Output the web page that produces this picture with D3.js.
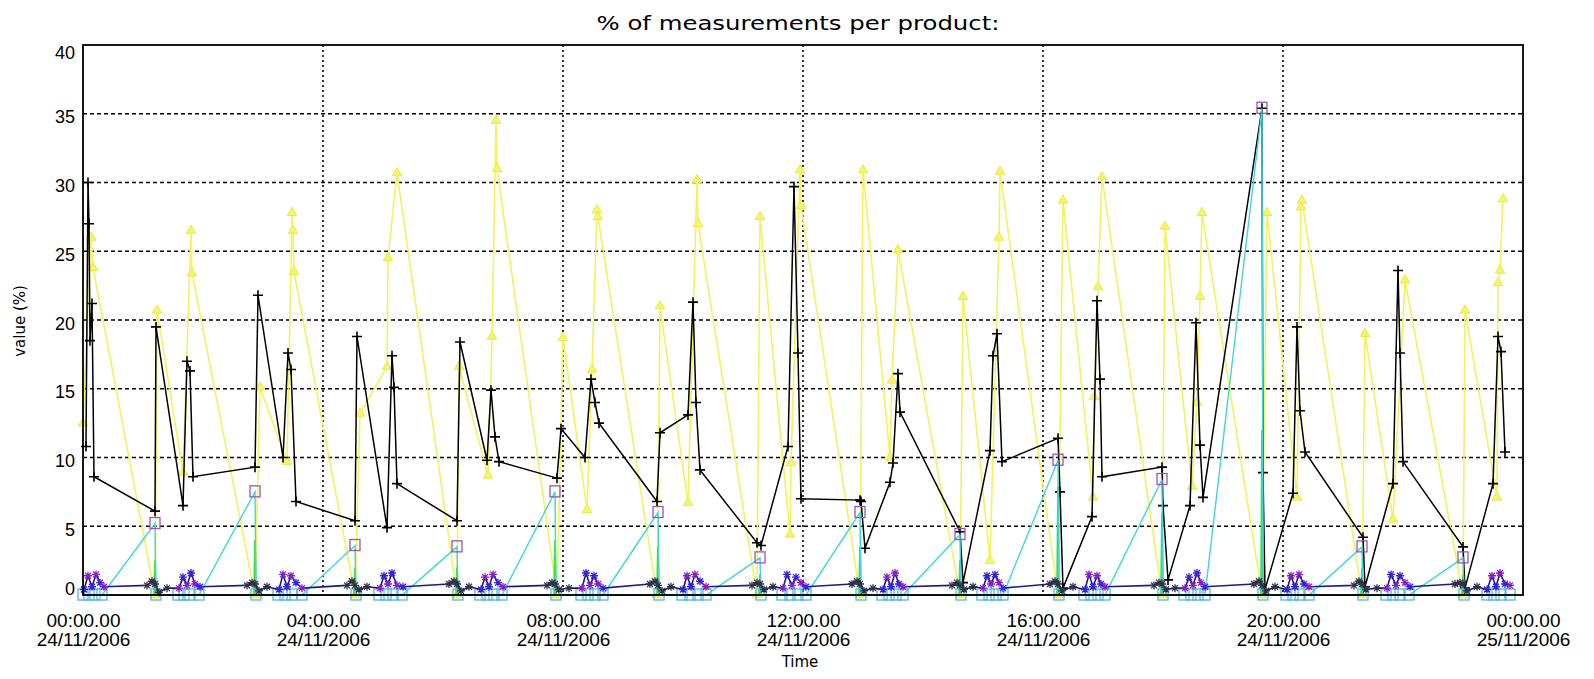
<!DOCTYPE html>
<html>
<head>
<meta charset="utf-8">
<script src="https://cdnjs.cloudflare.com/ajax/libs/d3/7.8.5/d3.min.js"></script>
<style>
  body { margin: 0; background: #fff; }
  svg { display: block; font-family: "DejaVu Sans", sans-serif; }
</style>
</head>
<body>
<svg id="chart"></svg>
<script>
// minutes after 00:00 on 24/11/2006
const yTicks = [0, 5, 10, 15, 20, 25, 30, 35, 40];
const xTickTimes = ["00:00.00", "04:00.00", "08:00.00", "12:00.00", "16:00.00", "20:00.00", "00:00.00"];
const xTickDates = ["24/11/2006", "24/11/2006", "24/11/2006", "24/11/2006", "24/11/2006", "24/11/2006", "25/11/2006"];

// yellow product (triangles)
const yellowTimes = [0, 8, 10, 72, 74, 100, 108, 109, 172, 177, 204, 209, 210, 211,
  272, 277, 304, 305, 314, 374, 376, 405, 409, 413, 414, 474, 480, 504, 509, 514, 515,
  574, 577, 605, 614, 615, 674, 677, 707, 708, 717, 718, 777, 780, 807, 809, 815,
  877, 880, 907, 916, 917, 975, 980, 1010, 1011, 1015, 1019, 1079, 1082, 1109, 1114, 1117, 1119,
  1179, 1184, 1214, 1218, 1219, 1279, 1282, 1310, 1322, 1380, 1382, 1414, 1415, 1417, 1420];
const yellowValues = [12.5, 26.0, 23.8, 0, 20.7, 8.9, 26.5, 23.4, 0, 15.1, 9.7, 27.8, 26.5, 23.5,
  0, 13.2, 16.6, 24.5, 30.7, 0, 16.6, 8.7, 18.8, 34.5, 31.0, 0, 18.7, 6.2, 16.4, 28.0, 27.5,
  0, 21.0, 6.7, 30.2, 27.0, 0, 27.5, 4.4, 9.6, 30.9, 28.3, 0, 30.9, 10.0, 15.6, 25.1,
  0, 21.7, 2.5, 26.0, 30.8, 0, 28.7, 7.1, 14.4, 22.4, 30.4, 0, 26.8, 7.9, 14.0, 21.7, 27.8,
  0, 27.8, 7.1, 28.2, 28.7, 0, 19.0, 5.5, 22.9, 0, 20.7, 7.1, 22.7, 23.6, 28.8];

// black product (plus signs)
const blackTimes = [3, 5, 6, 7, 9, 11, 72, 73, 100, 104, 107, 110, 172, 175, 200, 205, 208, 213,
  272, 274, 304, 309, 311, 314, 374, 377, 404, 408, 412, 416, 474, 478, 502, 508, 512, 516,
  574, 577, 605, 610, 613, 617, 674, 678, 705, 711, 715, 718, 777, 778, 782, 807, 810, 815, 817,
  877, 880, 907, 910, 914, 919, 975, 977, 980, 1009, 1014, 1017, 1019, 1079, 1080, 1085,
  1107, 1113, 1117, 1120, 1179, 1180, 1182, 1210, 1214, 1217, 1222, 1280, 1282,
  1310, 1315, 1317, 1320, 1380, 1382, 1410, 1415, 1418, 1422];
const blackValues = [10.8, 30.0, 27.0, 18.5, 21.2, 8.6, 6.1, 19.5, 6.5, 17.0, 16.3, 8.6, 9.3, 21.8, 10.0, 17.6, 16.4, 6.8,
  5.4, 18.8, 4.9, 17.4, 15.1, 8.1, 5.4, 18.4, 9.8, 14.9, 11.5, 9.7, 8.5, 12.1, 10.0, 15.7, 14.0, 12.5,
  6.8, 11.8, 13.1, 21.3, 14.0, 9.1, 3.8, 3.6, 10.8, 29.7, 17.6, 7.0, 6.9, 6.8, 3.4, 8.2, 9.6, 16.1, 13.3,
  4.6, 0.9, 10.5, 17.4, 19.0, 9.7, 11.4, 7.5, 0.5, 5.7, 21.4, 15.7, 8.6, 9.3, 6.5, 1.1,
  6.5, 19.8, 10.9, 7.1, 35.4, 8.9, 0.4, 7.4, 19.5, 13.4, 10.4, 4.2, 0.6,
  8.1, 23.6, 17.6, 9.7, 3.5, 0.5, 8.1, 18.8, 17.7, 10.4];

// cyan product (squares)
const cyanTimes = [0, 6, 12, 19, 72, 73, 95, 101, 107, 116, 172, 173, 195, 202, 209, 219, 272, 273,
  296, 303, 310, 319, 374, 375, 397, 404, 411, 419, 472, 473, 498, 505, 512, 520, 575, 576,
  599, 607, 615, 623, 677, 678, 699, 707, 715, 723, 777, 778, 799, 806, 813, 820, 877, 878,
  899, 906, 913, 920, 975, 976, 1001, 1008, 1015, 1022, 1079, 1080, 1101, 1108, 1115, 1122, 1179, 1180,
  1203, 1210, 1217, 1226, 1279, 1280, 1303, 1310, 1317, 1326, 1380, 1381, 1404, 1411, 1418, 1427];
const cyanValues = [0, 0, 0, 0, 5.2, 0, 0, 0, 0, 0, 7.5, 0, 0, 0, 0, 0, 3.6, 0,
  0, 0, 0, 0, 3.5, 0, 0, 0, 0, 0, 7.5, 0, 0, 0, 0, 0, 6.0, 0,
  0, 0, 0, 0, 2.7, 0, 0, 0, 0, 0, 6.0, 0, 0, 0, 0, 0, 4.4, 0,
  0, 0, 0, 0, 9.8, 0, 0, 0, 0, 0, 8.4, 0, 0, 0, 0, 0, 35.4, 0,
  0, 0, 0, 0, 3.5, 0, 0, 0, 0, 0, 2.7, 0, 0, 0, 0, 0];

// green product
const greenTimes = [0, 71, 72, 73, 171, 172, 173, 271, 272, 273, 373, 374, 375, 471, 472, 473,
  574, 575, 576, 676, 677, 678, 776, 777, 778, 876, 877, 878, 974, 975, 976, 1078, 1079, 1080,
  1178, 1179, 1180, 1278, 1279, 1280, 1379, 1380, 1381, 1427];
const greenValues = [0, 0, 2.5, 0, 0, 4.0, 0, 0, 2.0, 0, 0, 2.0, 0, 0, 4.0, 0,
  0, 3.5, 0, 0, 1.5, 0, 0, 3.5, 0, 0, 2.5, 0, 0, 7.9, 0, 0, 6.0, 0,
  0, 12.0, 0, 0, 2.0, 0, 0, 1.5, 0, 0];

// navy product (asterisks)
const navyTimes = [1, 5, 9, 13, 17, 21, 64, 69, 72, 76, 84,
  96, 100, 104, 108, 112, 117, 164, 169, 172, 176, 184,
  196, 200, 204, 208, 213, 219, 264, 269, 272, 276, 284,
  297, 301, 305, 309, 314, 320, 366, 371, 374, 378, 386,
  398, 402, 406, 410, 415, 420, 464, 469, 472, 476, 486,
  499, 503, 507, 511, 515, 520, 567, 572, 575, 579, 588,
  600, 604, 608, 612, 617, 623, 669, 674, 677, 681, 690,
  700, 704, 709, 713, 718, 723, 769, 774, 777, 781, 790,
  800, 804, 808, 812, 816, 820, 869, 874, 877, 881, 890,
  900, 904, 908, 912, 916, 920, 967, 972, 975, 979, 990,
  1002, 1006, 1010, 1014, 1018, 1022, 1071, 1076, 1079, 1083, 1092,
  1102, 1106, 1110, 1114, 1118, 1122, 1171, 1176, 1179, 1183, 1192,
  1204, 1208, 1212, 1216, 1221, 1226, 1271, 1276, 1279, 1283, 1294,
  1304, 1308, 1313, 1317, 1322, 1327, 1372, 1377, 1380, 1384, 1394,
  1404, 1409, 1413, 1417, 1422, 1427];
const navyValues = [0.4, 1.4, 0.6, 1.5, 0.9, 0.6, 0.7, 1.0, 0.8, 0.2, 0.5,
  0.5, 1.3, 0.7, 1.6, 0.8, 0.6, 0.7, 0.9, 0.8, 0.3, 0.6,
  0.4, 1.5, 0.6, 1.4, 0.9, 0.5, 0.7, 1.0, 0.7, 0.4, 0.6,
  0.5, 1.4, 0.8, 1.6, 0.7, 0.6, 0.8, 1.0, 0.8, 0.3, 0.6,
  0.4, 1.3, 0.6, 1.5, 0.9, 0.6, 0.7, 0.9, 0.8, 0.4, 0.5,
  0.5, 1.6, 0.7, 1.4, 0.8, 0.5, 0.8, 1.0, 0.7, 0.3, 0.6,
  0.4, 1.4, 0.6, 1.5, 1.0, 0.6, 0.7, 0.9, 0.8, 0.4, 0.6,
  0.5, 1.5, 0.7, 1.3, 0.9, 0.6, 0.8, 1.0, 0.8, 0.3, 0.5,
  0.4, 1.3, 0.6, 1.6, 0.8, 0.6, 0.7, 0.9, 0.7, 0.4, 0.6,
  0.5, 1.4, 0.8, 1.5, 0.9, 0.5, 0.8, 1.0, 0.8, 0.3, 0.6,
  0.4, 1.5, 0.6, 1.4, 0.8, 0.6, 0.7, 0.9, 0.8, 0.4, 0.5,
  0.5, 1.3, 0.7, 1.6, 0.9, 0.6, 0.8, 1.0, 0.7, 0.3, 0.6,
  0.4, 1.4, 0.6, 1.5, 0.8, 0.6, 0.7, 1.0, 0.8, 0.4, 0.5,
  0.5, 1.5, 0.7, 1.4, 0.9, 0.6, 0.8, 0.9, 0.8, 0.3, 0.6,
  0.4, 1.4, 0.6, 1.6, 0.8, 0.7];

const width = 1594, height = 679;
const margin = { top: 45, right: 71, bottom: 84, left: 83 };

const svg = d3.select("#chart").attr("width", width).attr("height", height);

const day0 = new Date(2006, 10, 24, 0, 0);
const toDate = m => new Date(2006, 10, 24, 0, m);

const x = d3.scaleTime()
  .domain([day0, new Date(2006, 10, 25, 0, 0)])
  .range([margin.left, width - margin.right]);
const y = d3.scaleLinear()
  .domain([0, 40])
  .range([height - margin.bottom, margin.top]);

// grid
svg.append("g").selectAll("line")
  .data(yTicks.filter(v => v > 0 && v < 40))
  .join("line")
  .attr("x1", margin.left).attr("x2", width - margin.right)
  .attr("y1", d => y(d)).attr("y2", d => y(d))
  .attr("stroke", "#000").attr("stroke-width", 1.6).attr("stroke-dasharray", "4,3");

const xTicks = d3.timeHour.every(4).range(day0, new Date(2006, 10, 25, 0, 1));
svg.append("g").selectAll("line")
  .data(xTicks.slice(1, -1))
  .join("line")
  .attr("x1", d => x(d)).attr("x2", d => x(d))
  .attr("y1", margin.top).attr("y2", height - margin.bottom)
  .attr("stroke", "#000").attr("stroke-width", 1.6).attr("stroke-dasharray", "2,3");

// axes
const xAxis = svg.append("g")
  .attr("transform", `translate(0,${height - margin.bottom})`)
  .call(d3.axisBottom(x).tickValues(xTicks).tickSize(0).tickFormat(""));
xAxis.select(".domain").remove();
xAxis.selectAll(".tick").each(function (d, i) {
  const t = d3.select(this).append("text")
    .attr("fill", "#000").attr("text-anchor", "middle")
    .style("font-size", "19px");
  t.append("tspan").attr("x", 0).attr("y", 32).text(xTickTimes[i]);
  t.append("tspan").attr("x", 0).attr("y", 51).text(xTickDates[i]);
});

const yAxis = svg.append("g")
  .attr("transform", `translate(${margin.left},0)`)
  .call(d3.axisLeft(y).tickValues(yTicks).tickSize(0).tickPadding(8));
yAxis.select(".domain").remove();
yAxis.selectAll(".tick text")
  .style("font-size", "18px").attr("fill", "#000")
  .attr("dy", d => d === 0 ? "-0.05em" : (d === 40 ? "0.75em" : "0.5em"));

// series helpers
const lineGen = d3.line().x(d => x(toDate(d[0]))).y(d => y(d[1]));
const zipSeries = (ts, vs) => ts.map((t, i) => [t, vs[i]]);

const yellow = zipSeries(yellowTimes, yellowValues);
const black = zipSeries(blackTimes, blackValues);
const cyan = zipSeries(cyanTimes, cyanValues);
const green = zipSeries(greenTimes, greenValues);
const navy = zipSeries(navyTimes, navyValues);

// yellow
svg.append("path").datum(yellow).attr("d", lineGen)
  .attr("fill", "none").attr("stroke", "#f4f25e").attr("stroke-width", 1.6);
svg.append("g").selectAll("path").data(yellow).join("path")
  .attr("transform", d => `translate(${x(toDate(d[0]))},${y(d[1])})`)
  .attr("d", d3.symbol(d3.symbolTriangle, 40))
  .attr("fill", "#f6f46a").attr("stroke", "#eee84a").attr("stroke-width", 1);

// black
svg.append("path").datum(black).attr("d", lineGen)
  .attr("fill", "none").attr("stroke", "#000").attr("stroke-width", 1.5);
svg.append("g").selectAll("path").data(black).join("path")
  .attr("transform", d => `translate(${x(toDate(d[0]))},${y(d[1])})`)
  .attr("d", "M-5,0H5M0,-5V5")
  .attr("stroke", "#000").attr("stroke-width", 1.6);

// green
svg.append("path").datum(green).attr("d", lineGen)
  .attr("fill", "none").attr("stroke", "#44dd44").attr("stroke-width", 1.8);

// cyan
svg.append("path").datum(cyan).attr("d", lineGen)
  .attr("fill", "none").attr("stroke", "#3cd6e0").attr("stroke-width", 1.4);
svg.append("g").selectAll("rect").data(cyan).join("rect")
  .attr("x", d => x(toDate(d[0])) - 5).attr("y", d => y(d[1]) - 6)
  .attr("width", 10).attr("height", 11)
  .attr("fill", "none")
  .attr("stroke", d => d[1] > 0 ? "#a050b8" : "#50b8e8")
  .attr("stroke-width", 1.3);

// navy
svg.append("path").datum(navy).attr("d", lineGen)
  .attr("fill", "none").attr("stroke", "#1e1a86").attr("stroke-width", 1.6);
svg.append("g").selectAll("path").data(navy).join("path")
  .attr("transform", d => `translate(${x(toDate(d[0]))},${y(d[1])})`)
  .attr("d", "M-4,0H4M0,-4V4M-3,-3L3,3M-3,3L3,-3")
  .attr("stroke", (d, i) => i % 11 >= 6 ? "#303048" : (i % 2 ? "#8a1cc4" : "#3a20d8"))
  .attr("stroke-width", 1.3);

// frame
svg.append("rect")
  .attr("x", margin.left).attr("y", margin.top)
  .attr("width", width - margin.left - margin.right)
  .attr("height", height - margin.top - margin.bottom)
  .attr("fill", "none").attr("stroke", "#000").attr("stroke-width", 1.8);

// labels
svg.append("text")
  .attr("x", 798).attr("y", 30)
  .attr("text-anchor", "middle")
  .attr("textLength", 403).attr("lengthAdjust", "spacingAndGlyphs")
  .style("font-size", "20px")
  .text("% of measurements per product:");

svg.append("text")
  .attr("x", 800).attr("y", 667)
  .attr("text-anchor", "middle")
  .style("font-size", "15px")
  .text("Time");

svg.append("text")
  .attr("transform", "translate(25,321) rotate(-90)")
  .attr("text-anchor", "middle")
  .style("font-size", "15px")
  .text("value (%)");
</script>
</body>
</html>
